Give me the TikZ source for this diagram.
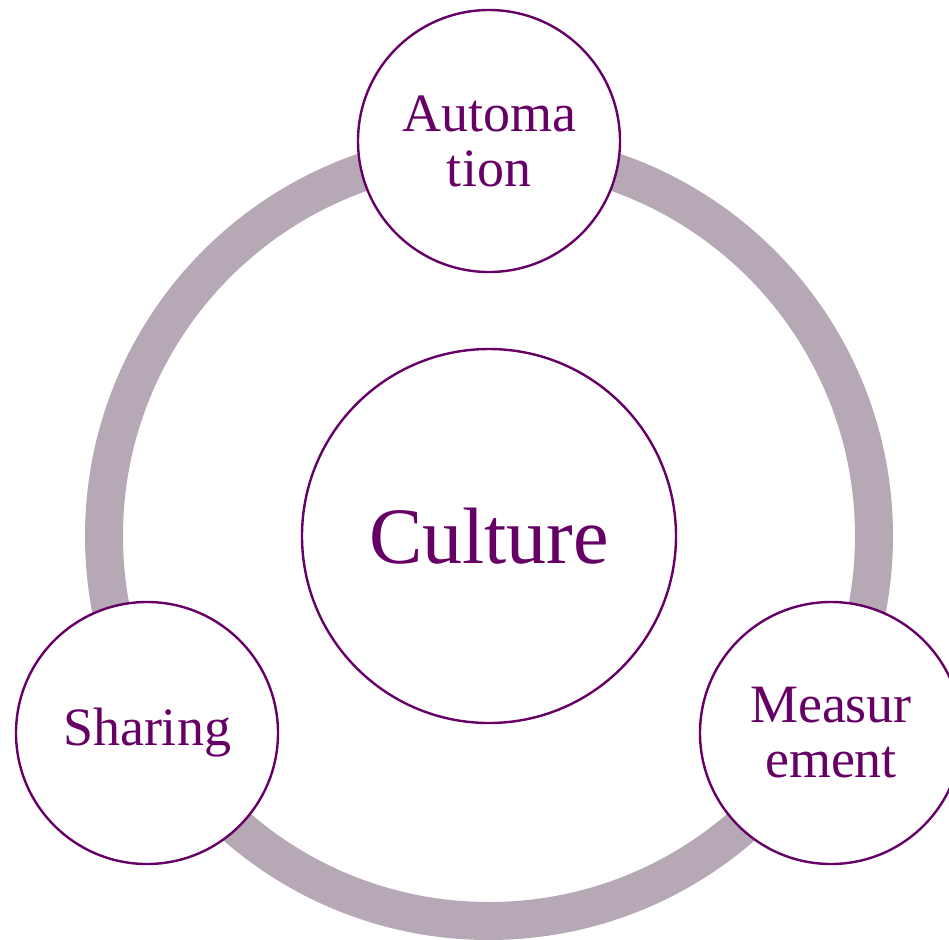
\documentclass[tikz,border=0pt]{standalone}
\usepackage{fontspec}
\setmainfont{Liberation Serif}
\usepackage{xcolor}
\usetikzlibrary{positioning, calc}

\definecolor{plum}{HTML}{660066}
\definecolor{ringgray}{HTML}{B7A8B5}

\begin{document}
\begin{tikzpicture}[x=0.5pt, y=-0.5pt]
			\tikzstyle{pillar} = [circle, minimum size=131pt, inner sep=0pt, align=center, draw=plum, line width=1.2pt, fill=white, text=plum, font=\fontsize{27}{27.5}\selectfont]
			\tikzstyle{core} = [circle, minimum size=187pt, inner sep=0pt, align=center, draw=plum, line width=1.2pt, fill=white, text=plum, font=\fontsize{40}{44}\selectfont]
			\tikzstyle{ring} = [draw=ringgray, line width=19pt]
			
			\useasboundingbox (0,0) rectangle (949,939);
			
			% Ring
			\coordinate (hub) at (489,536);
			\draw [ring] (hub) circle (385);
			
			% Nodes
			\node (culture) [core] at (hub) {Culture};
			\node (automation) [pillar] at (489,141) {Automa\\tion};
			\node (sharing) [pillar] at (147,733) {Sharing};
			\node (measurement) [pillar] at (831,733) {Measur\\ement};
			
		\end{tikzpicture}
\end{document}
